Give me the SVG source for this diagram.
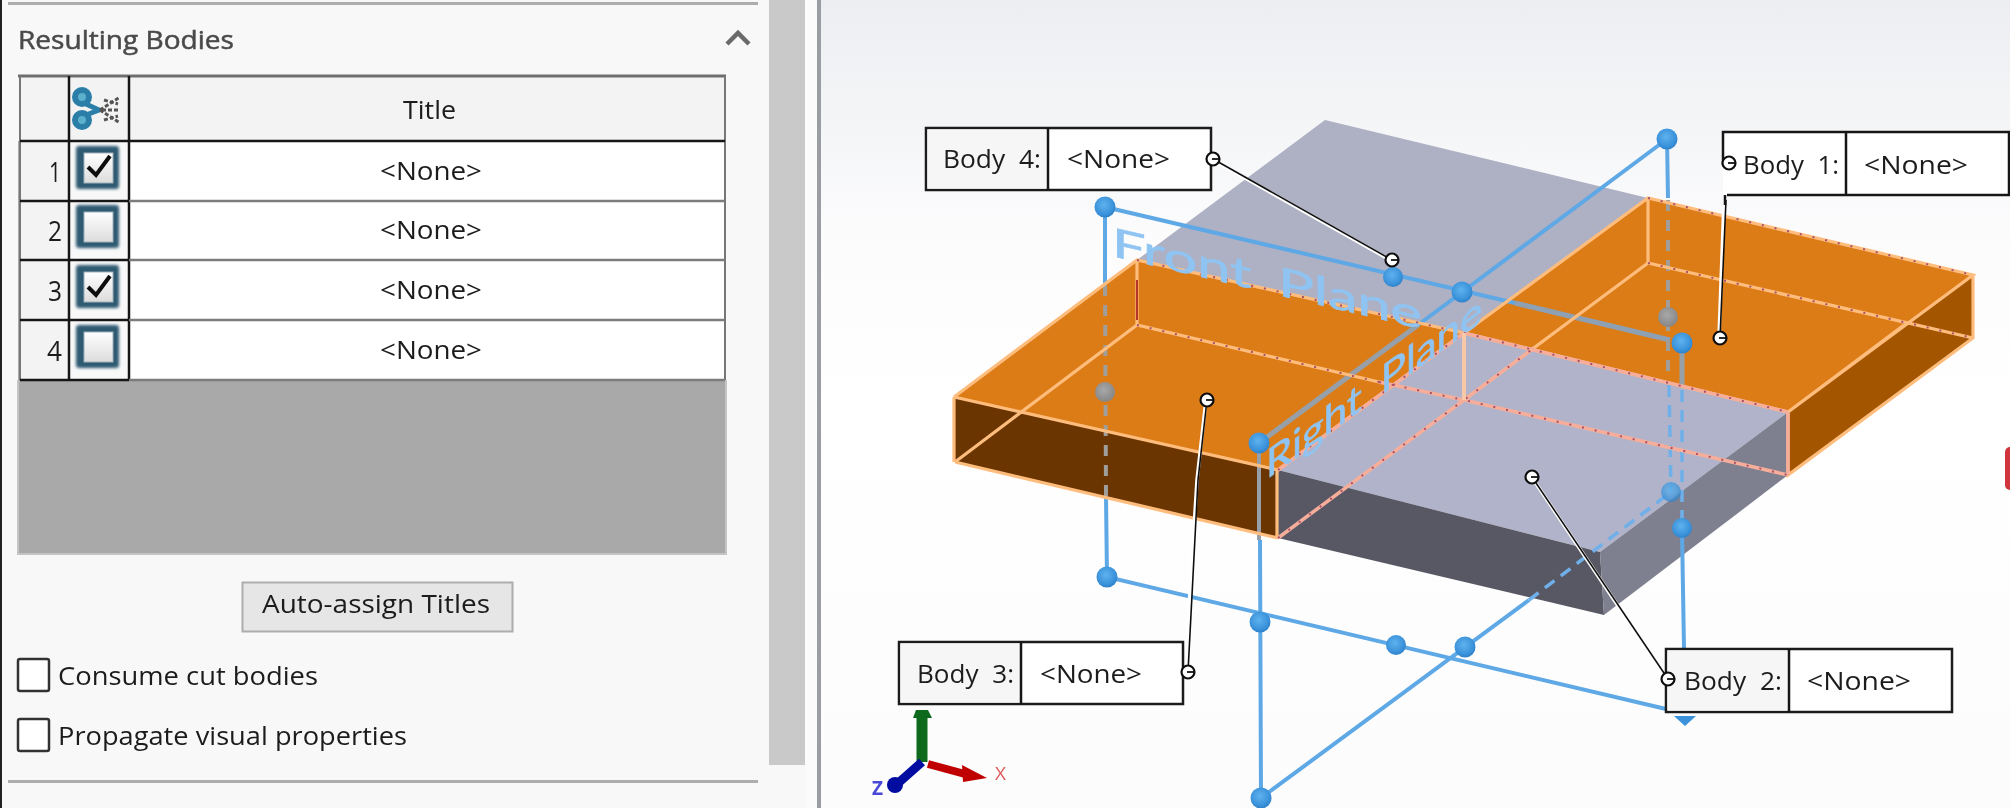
<svg xmlns="http://www.w3.org/2000/svg" xmlns:xlink="http://www.w3.org/1999/xlink" width="2010" height="808" viewBox="0 0 2010 808">
<style>
text{font-family:"Open Sans","Noto Sans","Liberation Sans",sans-serif;fill:#1c1c1c}
.ui{font-size:26px}
.num{font-size:27px}
.none{font-size:26px}
.call{font-size:26px;word-spacing:7px}
.pl{font-family:Lato,"Open Sans",sans-serif;font-size:40px;fill:#8fc4f2;stroke:#8fc4f2;stroke-width:.6;word-spacing:8px}
.cell{fill:#f3f3f3}
.bk{stroke:#161616;stroke-width:2.5;fill:none}
.gy{stroke:#7c7c7c;stroke-width:2.5;fill:none}
.o{stroke:#ffbd7d;stroke-width:3.2;fill:none}
.p{stroke:#f6ae9b;stroke-width:3.5;fill:none}
.d{stroke:#a8506a;stroke-width:2;stroke-dasharray:2 11;fill:none}
.b{stroke:#5ea8e6;stroke-width:4;fill:none}
.bd{stroke:#6fb0ea;stroke-width:3.5;stroke-dasharray:12 8;fill:none}
.g{stroke:#97a0a8;stroke-width:5;fill:none}
.gd{stroke:#a09e9a;stroke-width:4;stroke-dasharray:11 9;fill:none}
.lh{stroke:#fff;stroke-width:3.5;fill:none}
.lk{stroke:#111;stroke-width:1.6;fill:none}
.box{fill:#fff;stroke:#1a1a1a;stroke-width:2.5}
.lc{fill:#f6f6f6}
.cb{fill:#fff;stroke:#333;stroke-width:2.5}
.chk{fill:none;stroke:#111;stroke-width:4}
</style>
<defs>
<linearGradient id="vp" x1="0" y1="0" x2="0" y2="1"><stop offset="0" stop-color="#eceef1"/><stop offset=".3" stop-color="#fcfcfd"/><stop offset=".5" stop-color="#fff"/><stop offset="1" stop-color="#fcfcfc"/></linearGradient>
<linearGradient id="cbf" x1="0" y1="0" x2="0" y2="1"><stop offset="0" stop-color="#fff"/><stop offset="1" stop-color="#dcdcdc"/></linearGradient>
<radialGradient id="sph" cx=".45" cy=".4" r=".65"><stop offset="0" stop-color="#5fb2ee"/><stop offset=".7" stop-color="#3a92da"/><stop offset="1" stop-color="#2c7cc4"/></radialGradient>
<radialGradient id="sphg" cx=".45" cy=".4" r=".65"><stop offset="0" stop-color="#a8a8a8"/><stop offset="1" stop-color="#838383"/></radialGradient>
<filter id="soft" x="-20%" y="-20%" width="140%" height="140%"><feGaussianBlur stdDeviation="1.4"/></filter>
<filter id="v" x="0" y="0" width="100%" height="100%"><feGaussianBlur stdDeviation=".7"/></filter>
<g id="dot"><circle r="6.5" fill="#fff" stroke="#111" stroke-width="2.2"/><path d="M-1 0H6" stroke="#111" stroke-width="1.8"/></g>
<g id="cbx"><rect x="-1" y="-1" width="43" height="43" rx="3" fill="#2f5a72" filter="url(#soft)"/><rect x="7" y="6" width="29" height="30" fill="url(#cbf)" stroke="#9fb0ba" stroke-width="1"/></g>
</defs>
<g filter="url(#v)">
<rect width="2010" height="808" fill="#f8f8f8"/>
<rect x="0" y="0" width="2" height="808" fill="#222"/>
<rect x="8" y="2" width="750" height="3" fill="#adadad"/>
<rect x="769" y="0" width="36" height="765" fill="#cac9c9"/>
<rect x="805" y="0" width="12" height="808" fill="#fbfbfb"/>
<rect x="817" y="0" width="4" height="808" fill="#9a9ea2"/>
<rect x="821" y="0" width="1189" height="808" fill="url(#vp)"/>

<g id="panel-header">
<text class="ui" x="18" y="49" textLength="216" lengthAdjust="spacingAndGlyphs" style="fill:#4a4a4a;stroke:#4a4a4a;stroke-width:.5">Resulting Bodies</text>
<path d="M727 44L738 33L749 44" fill="none" stroke="#6a6a6a" stroke-width="4.500"/>
</g>

<g id="bodies-table">
<rect x="18" y="141" width="708" height="413" fill="#a9a9aa"/>
<rect x="20" y="76" width="705" height="65" class="cell"/>
<rect x="20" y="141" width="49" height="239" class="cell"/>
<rect x="69" y="141" width="60" height="239" fill="#f8f8f8"/>
<rect x="129" y="141" width="596" height="239" fill="#fff"/>
<path d="M18 76H726" stroke="#6e6e6e" stroke-width="3" fill="none"/>
<path d="M20 76V380M725 76V380" stroke="#777" stroke-width="2" fill="none"/>
<path d="M18 380V554H726V380" stroke="#c4c4c4" stroke-width="2" fill="none"/>
<path class="bk" d="M20 141H725M69 76V381M129 76V381M20 201H129M20 260H129M20 320H129M20 380H129"/>
<path class="gy" d="M129 201H725M129 260H725M129 320H725M129 380H725"/>
<g id="header-icon">
<circle cx="82" cy="97" r="7" fill="#5db0cc" stroke="#2a7ea8" stroke-width="6"/>
<circle cx="82" cy="120" r="7" fill="#5db0cc" stroke="#2a7ea8" stroke-width="6"/>
<path d="M86 104L99 110L86 115" stroke="#2a7ea8" stroke-width="5" fill="none"/>
<path d="M100 110L120 97M100 110L120 123M104 100L118 104M104 120L118 116M102 110H120" stroke="#555" stroke-width="3" stroke-dasharray="4 2" fill="none"/>
</g>
<text class="ui" x="403" y="119" textLength="53" lengthAdjust="spacingAndGlyphs">Title</text>
<text class="num" x="49" y="182" textLength="12" lengthAdjust="spacingAndGlyphs">1</text>
<text class="num" x="48" y="241" textLength="14" lengthAdjust="spacingAndGlyphs">2</text>
<text class="num" x="48" y="301" textLength="14" lengthAdjust="spacingAndGlyphs">3</text>
<text class="num" x="47" y="361" textLength="15" lengthAdjust="spacingAndGlyphs">4</text>
<text class="none" x="380" y="180" textLength="102" lengthAdjust="spacingAndGlyphs">&lt;None&gt;</text>
<text class="none" x="380" y="239" textLength="102" lengthAdjust="spacingAndGlyphs">&lt;None&gt;</text>
<text class="none" x="380" y="299" textLength="102" lengthAdjust="spacingAndGlyphs">&lt;None&gt;</text>
<text class="none" x="380" y="359" textLength="102" lengthAdjust="spacingAndGlyphs">&lt;None&gt;</text>
<use xlink:href="#cbx" href="#cbx" x="77" y="147"/>
<use xlink:href="#cbx" href="#cbx" x="77" y="206"/>
<use xlink:href="#cbx" href="#cbx" x="77" y="266"/>
<use xlink:href="#cbx" href="#cbx" x="77" y="326"/>
<path class="chk" d="M88 167L96 175L110 156"/>
<path class="chk" d="M88 287L96 295L110 276"/>
</g>

<g id="auto-assign-button">
<rect x="242.500" y="582.500" width="270" height="49" fill="#e6e6e6" stroke="#adadad" stroke-width="2"/>
<text class="ui" x="262" y="613" textLength="228" lengthAdjust="spacingAndGlyphs">Auto-assign Titles</text>
</g>
<g id="consume-option">
<rect class="cb" x="18" y="659" width="31" height="32" rx="2"/>
<text class="ui" x="58" y="685" textLength="260" lengthAdjust="spacingAndGlyphs">Consume cut bodies</text>
</g>
<g id="propagate-option">
<rect class="cb" x="18" y="719" width="31" height="32" rx="2"/>
<text class="ui" x="58" y="745" textLength="349" lengthAdjust="spacingAndGlyphs">Propagate visual properties</text>
</g>
<rect x="8" y="780" width="750" height="3" fill="#adadad"/>

<g id="body-4"><polygon points="1137,260 1325,120 1648,198 1464,333" fill="#aeb0c4"/></g>
<g id="body-2">
<polygon points="1278,470 1464,333 1788,412 1600,552" fill="#b0b3c9"/>
<polygon points="1278,538 1278,470 1600,552 1604,615" fill="#595965"/>
<polygon points="1600,552 1788,412 1788,475 1604,615" fill="#7e7f8f"/>
</g>
<g id="body-3">
<polygon points="954,397 1278,470 1278,538 955,462" fill="#6a3400"/>
<polygon points="954,397 1137,260 1464,333 1278,470" fill="#dc7c18"/>
</g>
<g id="body-1">
<polygon points="1788,412 1973,275 1973,338 1788,475" fill="#a45500"/>
<polygon points="1464,333 1648,198 1973,275 1788,412" fill="#dc7c18"/>
</g>

<g id="planes">
<path class="b" d="M1105,207L1515,303"/>
<path class="g" d="M1515,303L1670,340" style="stroke:#8da0b4"/>
<path class="b" d="M1105,207V283"/>
<path class="gd" d="M1105,285L1106,497"/>
<path class="b" d="M1106,497L1107,577L1666,709"/>
<path class="b" d="M1667,139L1414,328"/>
<path class="g" d="M1418,325L1259,443"/>
<path class="g" d="M1259,443V540" style="stroke-width:4"/>
<path class="b" d="M1260,540L1261,798L1529,600"/>
<path class="bd" d="M1529,600L1671,492"/>
<path class="b" d="M1667,139L1668,198"/>
<path class="gd" d="M1668,200V375"/>
<path class="bd" d="M1669,385L1671,492"/>
<path class="g" d="M1682,343V388"/>
<path class="bd" d="M1682,390V530"/>
<path class="b" d="M1682,530L1684,649"/>
</g>

<g id="edges">
<path class="o" d="M954,397L1137,260L1464,333M954,397L1278,470L1464,333L1137,260M955,462L1137,325L1379,382M955,462L1278,538M954,397V462M1137,260V325M1277,470V538"/>
<path class="d" d="M1137,260L1464,333M1137,325L1379,382"/>
<path d="M1137,280V320" stroke="#b8342a" stroke-width="2" fill="none"/>
<path class="o" d="M1464,333L1648,198L1973,275L1788,412L1464,333M1648,263L1973,338M1648,198V263M1464,400L1648,263M1973,275V338L1788,475V412M1904,325L1788,412"/>
<path class="d" d="M1648,198L1973,275M1648,263L1973,338"/>
<path class="p" d="M1278,470L1464,333M1278,538L1464,400L1534,348M1464,333L1788,412M1379,382L1464,400L1788,475M1788,412V475"/>
<path class="d" d="M1278,470L1464,333M1278,538L1464,400L1534,348M1464,333L1788,412M1379,382L1464,400L1788,475"/>
<path d="M1464,333V400" stroke="#f8c8a8" stroke-width="4" fill="none"/>
</g>

<text class="pl" transform="matrix(1 .2357 0 1 1112 256)" textLength="310" lengthAdjust="spacingAndGlyphs" x="0" y="0">Front Plane</text>
<text class="pl" transform="matrix(1 -.735 0 1 1266 480)" textLength="216" lengthAdjust="spacingAndGlyphs" x="0" y="0">Right Plane</text>

<g id="handles">
<circle cx="1105" cy="207" r="10.500" fill="url(#sph)"/>
<circle cx="1393" cy="277" r="10" fill="url(#sph)"/>
<circle cx="1462" cy="292" r="10.500" fill="url(#sph)"/>
<circle cx="1667" cy="139" r="10.500" fill="url(#sph)"/>
<circle cx="1682" cy="343" r="10.500" fill="url(#sph)"/>
<circle cx="1259" cy="443" r="10.500" fill="url(#sph)"/>
<circle cx="1105" cy="392" r="10" fill="url(#sphg)"/>
<circle cx="1668" cy="317" r="10" fill="url(#sphg)"/>
<circle cx="1671" cy="492" r="10" fill="url(#sph)" opacity=".75"/>
<circle cx="1682" cy="528" r="10" fill="url(#sph)"/>
<circle cx="1107" cy="577" r="10.500" fill="url(#sph)"/>
<circle cx="1260" cy="622" r="10.500" fill="url(#sph)"/>
<circle cx="1396" cy="645" r="10" fill="url(#sph)"/>
<circle cx="1465" cy="647" r="10.500" fill="url(#sph)"/>
<circle cx="1261" cy="798" r="10.500" fill="url(#sph)"/>
<polygon points="1674,716 1696,716 1685,726" fill="#3a92da"/>
</g>

<g id="connectors">
<path class="lh" d="M1213,160L1392,261"/><path class="lk" d="M1213,159L1392,260"/>
<path class="lh" d="M1724,200L1719,338"/><path class="lk" d="M1726,200L1720,338"/>
<path class="lh" d="M1206,400L1197,480L1187,640"/><path class="lk" d="M1207,400L1198,480L1188,672"/>
<path class="lh" d="M1533,479L1667,679"/><path class="lk" d="M1532,477L1668,679"/>
</g>

<g id="callout-4">
<rect class="box" x="926" y="128" width="285" height="62"/>
<rect class="lc" x="927.500" y="129.500" width="119" height="59"/>
<path class="bk" d="M1048 128V190"/>
<text class="call" x="943" y="168" textLength="98" lengthAdjust="spacingAndGlyphs">Body 4:</text>
<text class="call" x="1067" y="168" textLength="103" lengthAdjust="spacingAndGlyphs">&lt;None&gt;</text>
<use xlink:href="#dot" href="#dot" x="1213" y="159"/><use xlink:href="#dot" href="#dot" x="1392" y="260"/>
</g>
<g id="callout-1">
<rect x="1723" y="133" width="285" height="62" fill="#fff"/>
<path class="bk" d="M1723 165V132H2009V195H1727M1846 132V195M1725 195V205"/>
<text class="call" x="1743" y="174" textLength="96" lengthAdjust="spacingAndGlyphs">Body 1:</text>
<text class="call" x="1864" y="174" textLength="104" lengthAdjust="spacingAndGlyphs">&lt;None&gt;</text>
<use xlink:href="#dot" href="#dot" x="1729" y="163"/><use xlink:href="#dot" href="#dot" x="1720" y="338"/>
</g>
<g id="callout-3">
<rect class="box" x="899" y="642" width="284" height="62"/>
<rect class="lc" x="900.500" y="643.500" width="120" height="59"/>
<path class="bk" d="M1021 642V704"/>
<text class="call" x="917" y="683" textLength="97" lengthAdjust="spacingAndGlyphs">Body 3:</text>
<text class="call" x="1040" y="683" textLength="102" lengthAdjust="spacingAndGlyphs">&lt;None&gt;</text>
<use xlink:href="#dot" href="#dot" x="1188" y="672"/><use xlink:href="#dot" href="#dot" x="1207" y="400"/>
</g>
<g id="callout-2">
<rect class="box" x="1666" y="649" width="286" height="63"/>
<rect class="lc" x="1667.500" y="650.500" width="120" height="60"/>
<path class="bk" d="M1789 649V712"/>
<text class="call" x="1684" y="690" textLength="98" lengthAdjust="spacingAndGlyphs">Body 2:</text>
<text class="call" x="1807" y="690" textLength="104" lengthAdjust="spacingAndGlyphs">&lt;None&gt;</text>
<use xlink:href="#dot" href="#dot" x="1668" y="679"/><use xlink:href="#dot" href="#dot" x="1532" y="477"/>
</g>

<g id="triad">
<path d="M922 762V716" stroke="#0f6b1f" stroke-width="11" fill="none"/>
<polygon points="913,718 916,710 928,710 932,718" fill="#0f6b1f"/>
<path d="M928 764L965 774" stroke="#c00000" stroke-width="8" fill="none"/>
<polygon points="962,765 987,778 963,782" fill="#c00000"/>
<path d="M922 762L896 785" stroke="#000ea0" stroke-width="9" fill="none"/>
<circle cx="895" cy="785" r="8" fill="#000ea0"/>
<text x="995" y="780" style="fill:#e05a5a;font-size:19px">X</text>
<text x="872" y="795" style="fill:#4a48d8;font-size:19px;font-weight:700">Z</text>
</g>
<rect x="2005" y="447" width="12" height="43" rx="5" fill="#d0343c"/>
</g>
</svg>
